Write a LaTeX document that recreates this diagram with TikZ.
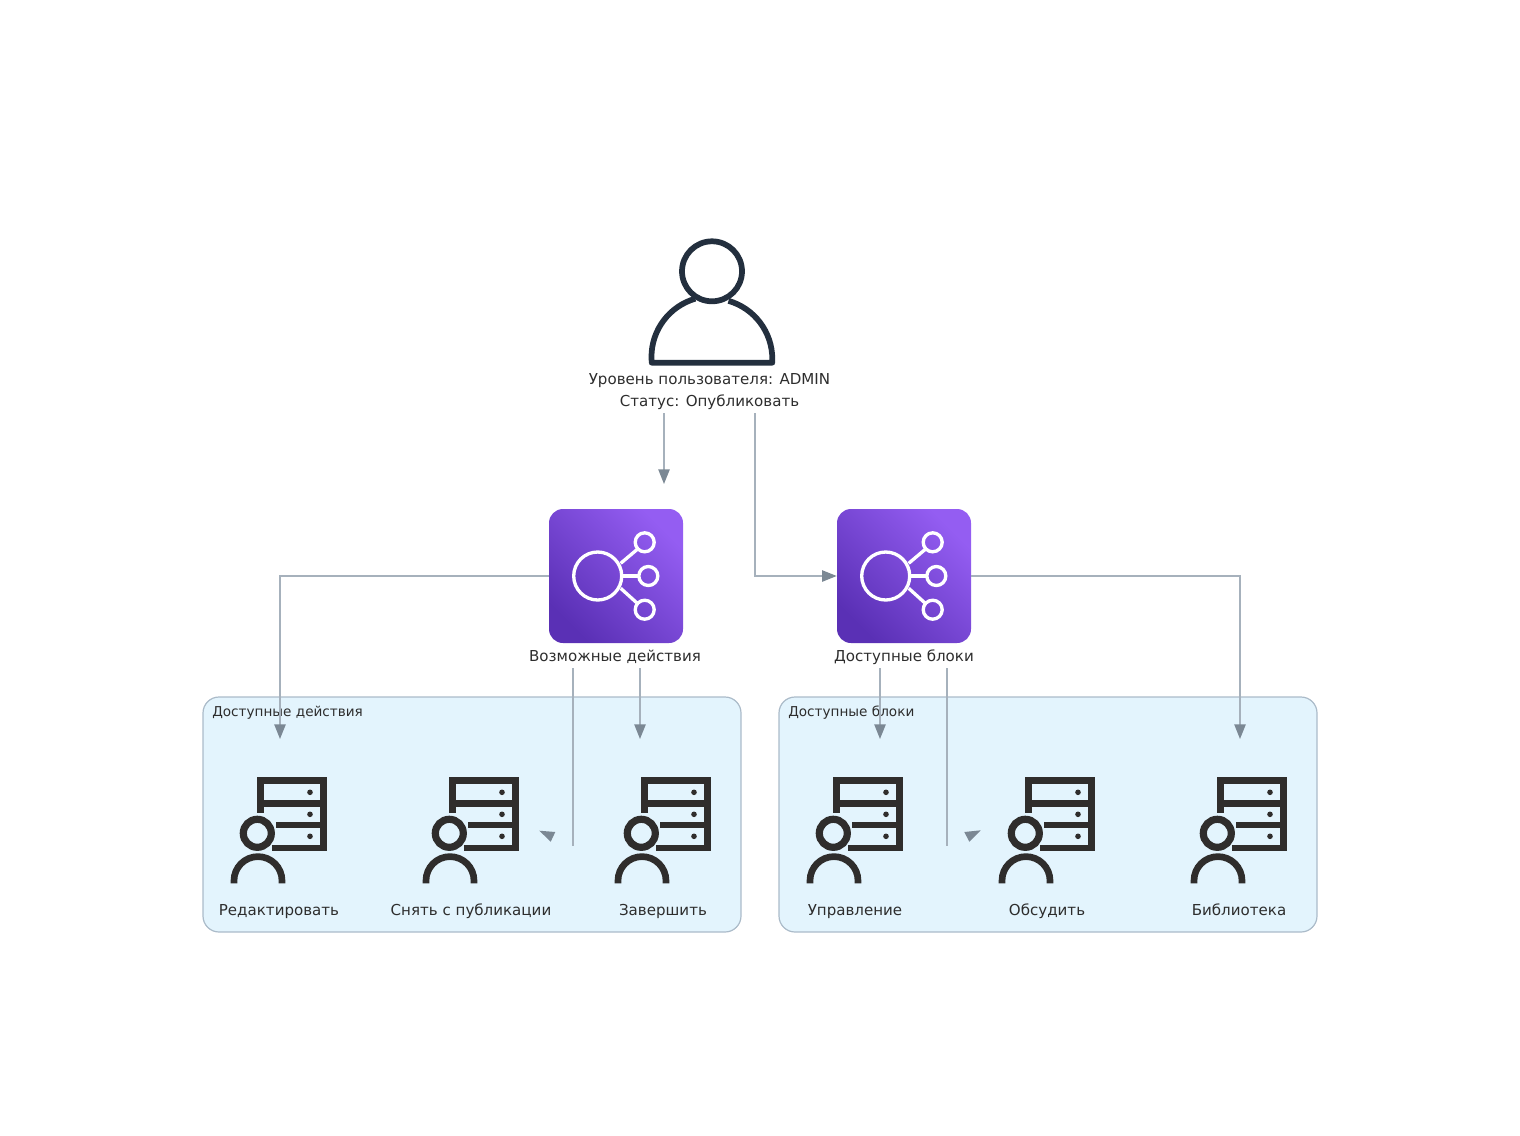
\documentclass[tikz,border=0pt]{standalone}
\usepackage{fontspec}
\setmainfont{DejaVu Sans}
\usetikzlibrary{arrows.meta,positioning,calc}
\definecolor{linkgray}{HTML}{A6B1BC}
\definecolor{tipgray}{HTML}{7B8894}
\definecolor{usernavy}{HTML}{232F3E}
\definecolor{icondark}{HTML}{2F2D2C}
\definecolor{groupfill}{HTML}{E3F4FD}
\definecolor{groupline}{HTML}{ABBBC9}
\definecolor{purpledark}{HTML}{5A30B5}
\definecolor{purplelight}{HTML}{945DF2}
\definecolor{textdark}{HTML}{2D2D2D}

\begin{document}
\begin{tikzpicture}[
    x=0.75pt, y=-0.75pt,
    group/.style={draw=groupline, fill=groupfill, rounded corners=12pt, line width=0.9pt,
      minimum width=403.5pt, minimum height=176.25pt, inner sep=0pt},
    group_label/.style={font=\fontsize{10.2}{12}\selectfont, text=textdark, anchor=base west, inner sep=0pt},
    label/.style={font=\fontsize{11.3}{16.5}\selectfont, text=textdark, inner sep=0pt, align=center},
    link/.style={draw=linkgray, line width=1.1pt},
    arrow_link/.style={link, -{Triangle[length=11pt,width=8.5pt,color=tipgray,fill=tipgray]}},
    stray_tip/.style={fill=tipgray},
    hub/.style={shape=rectangle, minimum size=100.5pt, inner sep=0pt, rounded corners=10.5pt,
      left color=purplelight, right color=purpledark, shading angle=-45},
    slot/.style={shape=rectangle, minimum width=72pt, minimum height=78pt, inner sep=0pt},
    hub_glyph/.pic={
      \begin{scope}[draw=white, line width=2.5pt]
        \draw (-18.3,0) circle (24);
        \draw (28.7,-33.7) circle (9.5);
        \draw (32.3,0) circle (9.5);
        \draw (28.7,33.7) circle (9.5);
        \draw (4.7,-12.7) -- (21.3,-26.7);
        \draw (7.3,0) -- (22.3,0);
        \draw (4.7,12.3) -- (21.3,27.3);
      \end{scope}
    },
    agent_glyph/.pic={
      \begin{scope}[draw=icondark, line width=5pt]
        \draw (-18.7,-18.3) -- (-18.7,-50.3) -- (44.7,-50.3) -- (44.7,17) -- (-7.3,17);
        \draw (-18.7,-27.7) -- (44.7,-27.7);
        \draw (-3,-6) -- (44.7,-6);
        \draw[line width=5.4pt] (-21.7,2.3) circle (14);
        \draw (-45,52.3) -- (-45,49.6) arc[start angle=180, end angle=360, radius=24] -- (3,52.3);
      \end{scope}
      \foreach \dy in {-38.7,-16.7,5.3} {
        \fill[icondark] (31,\dy) circle (2.8);
      }
    },
    user_glyph/.pic={
      \begin{scope}[draw=usernavy, line width=4.3pt, line join=round]
        \draw (0,-30.7) circle (30);
        \draw (-16.7,-3.3) arc[start angle=254, end angle=180, radius=60.5] -- (-60.3,60.7) -- (60.3,60.7) -- (60.3,57)
          arc[start angle=360, end angle=286, radius=60.5];
      \end{scope}
    }
]
\useasboundingbox (0,0) rectangle (1520,1135);

% Groups
\node[group] (groupA) at (472,814.5) {};
\node[group] (groupB) at (1048,814.5) {};
\node[group_label] (groupAlabel) at (212,716.5) {Доступные действия};
\node[group_label] (groupBlabel) at (788,716.5) {Доступные блоки};

% User
\node[slot] (user) at (712,302) {};
\pic at (user) {user_glyph};
\node[label, minimum height=31.5pt] (userlabel) at (709.5,392) {Уровень пользователя: ADMIN\\Статус: Опубликовать};

% Hubs
\node[hub] (hubA) at (616,576) {};
\node[hub] (hubB) at (904,576) {};
\pic at (hubA) {hub_glyph};
\pic at (hubB) {hub_glyph};
\node[label, minimum height=16.5pt] (hubAlabel) at (615,657) {Возможные действия};
\node[label, minimum height=16.5pt] (hubBlabel) at (904,657) {Доступные блоки};

% Agents
\foreach \name/\x/\txt in {edit/279/Редактировать, unpublish/471/Снять с публикации, finish/663/Завершить,
    manage/855/Управление, discuss/1047/Обсудить, library/1239/Библиотека} {
  \node[slot] (\name) at (\x,831) {};
  \pic at (\name) {agent_glyph};
  \node[label, anchor=base] (\name label) at (\x,915.5) {\txt};
}

% Free ends of the connectors
\coordinate (hubAtip) at (664,484);
\coordinate (bendB) at (755,576);
\coordinate (edittip) at (280,739);
\coordinate (finishtip) at (640,739);
\coordinate (managetip) at (880,739);
\coordinate (librarytip) at (1240,739);
\coordinate (endA) at (573,846);
\coordinate (endB) at (947,846);

% Connectors
\draw[arrow_link] (userlabel.south -| hubAtip) -- (hubAtip);
\draw[arrow_link] (userlabel.south -| bendB) -- (bendB) -- (hubB.west);
\draw[arrow_link] (hubA.west) -| (edittip);
\draw[arrow_link] (hubB.east) -| (librarytip);
\draw[arrow_link] (hubAlabel.south -| finishtip) -- (finishtip);
\draw[arrow_link] (hubBlabel.south -| managetip) -- (managetip);
\draw[link] (hubAlabel.south -| endA) -- (endA);
\draw[link] (hubBlabel.south -| endB) -- (endB);
\fill[stray_tip] (539.3,830.7) -- (555.3,832) -- (550.7,841.7) -- cycle;
\fill[stray_tip] (964.3,832) -- (980.7,830.3) -- (969.3,841.7) -- cycle;

\end{tikzpicture}
\end{document}
